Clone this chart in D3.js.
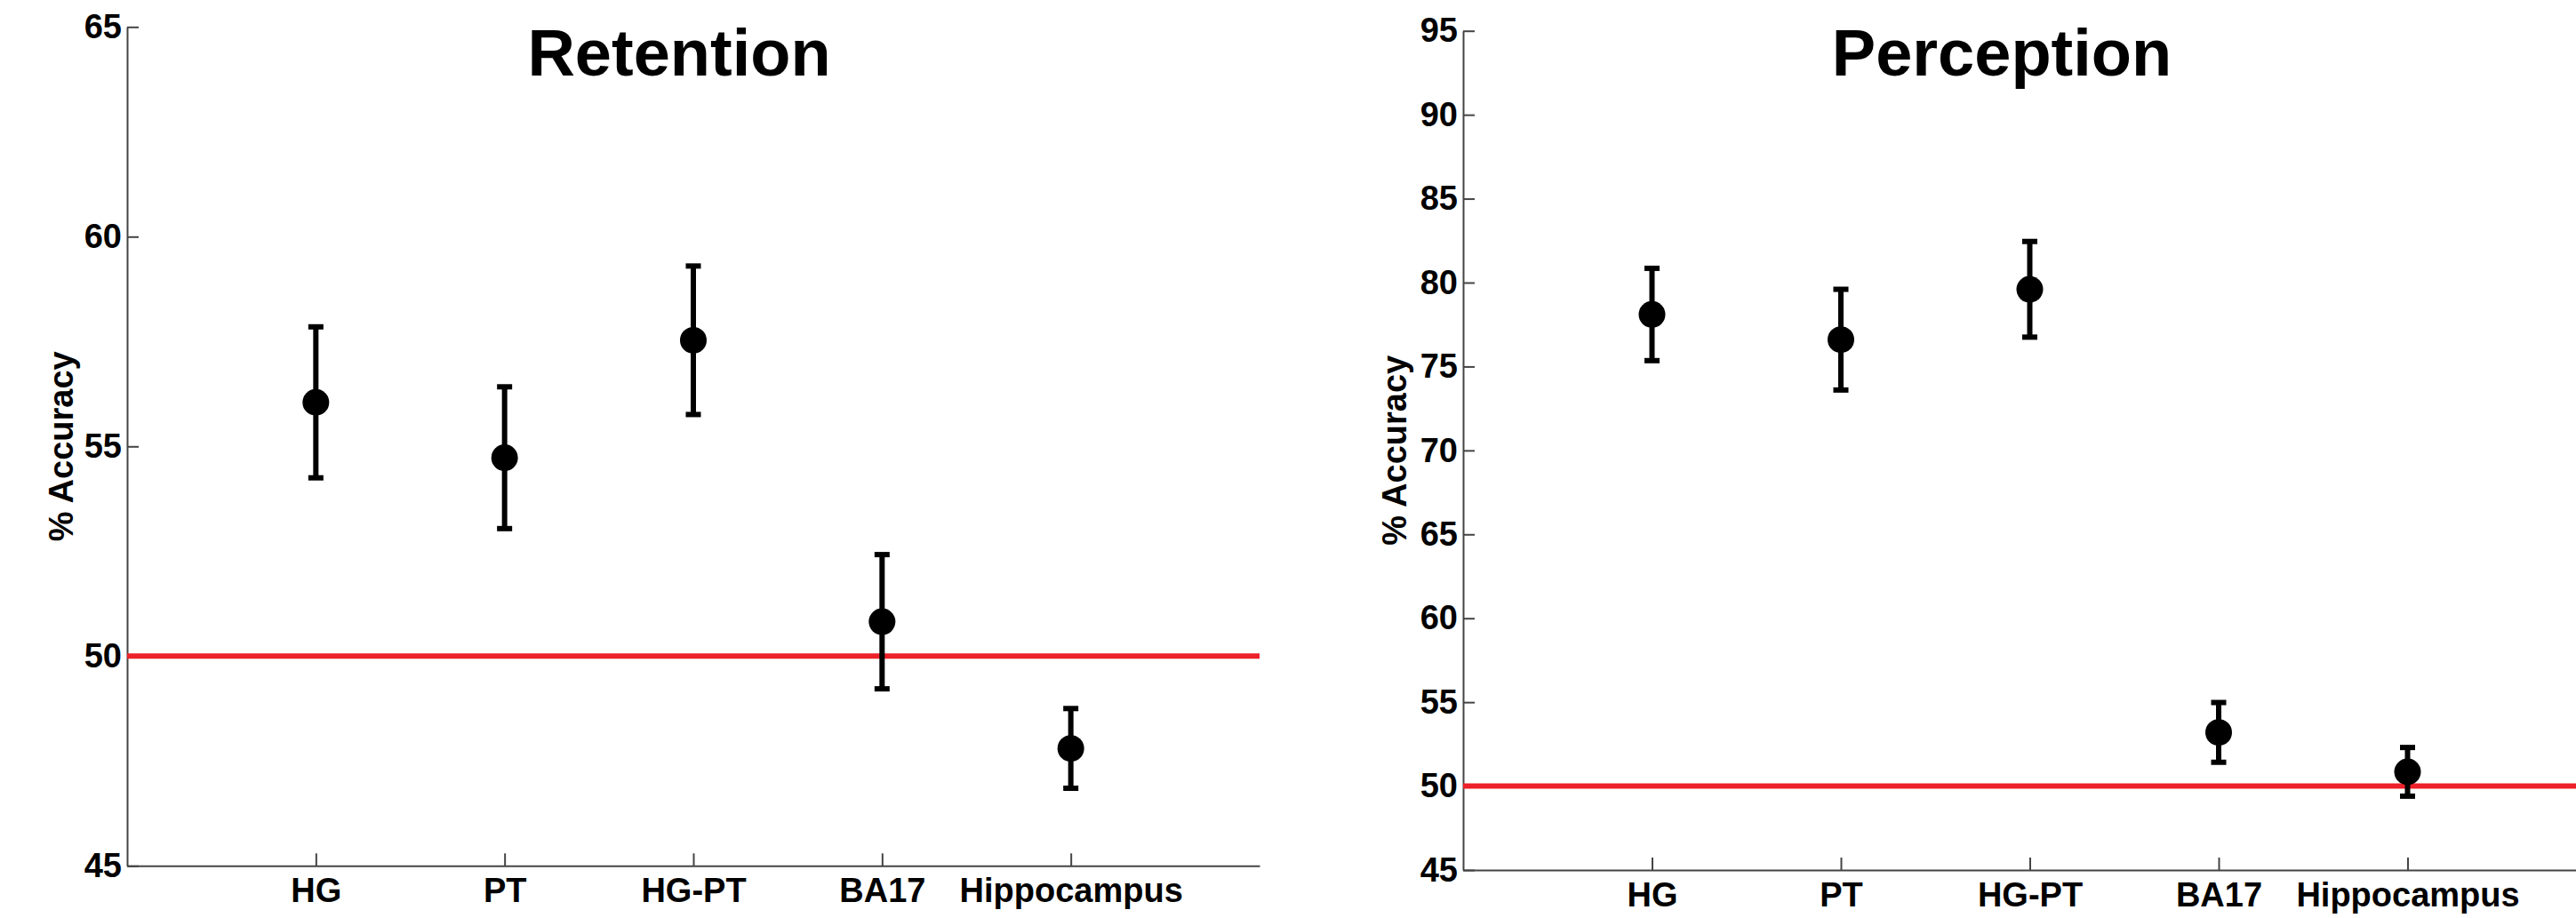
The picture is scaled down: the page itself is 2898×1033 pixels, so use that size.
<!DOCTYPE html>
<html>
<head>
<meta charset="utf-8">
<script src="https://cdn.jsdelivr.net/npm/d3@7"></script>
<style>
  body { margin: 0; background: #fff; }
  text { font-family: "Liberation Sans", Arial, sans-serif; font-weight: bold; }
</style>
</head>
<body>
<svg></svg>
<script>
const width = 2898;
const height = 1033;

const regions = ['HG', 'PT', 'HG-PT', 'BA17', 'Hippocampus'];

const retentionMean = [56.05, 54.73, 57.53, 50.82, 47.8];
const retentionErr = [1.8, 1.69, 1.77, 1.6, 0.95];
const retentionTicks = [45, 50, 55, 60, 65];

const perceptionMean = [78.1, 76.6, 79.6, 53.2, 50.85];
const perceptionErr = [2.75, 3.0, 2.85, 1.78, 1.45];
const perceptionTicks = [45, 50, 55, 60, 65, 70, 75, 80, 85, 90, 95];

const chance = 50;

const panels = [
    {title: 'Retention', mean: retentionMean, err: retentionErr, ticks: retentionTicks,
     left: 143, right: 1417, top: 30.3, bottom: 974.3, titleX: 764, labelX: 82},
    {title: 'Perception', mean: perceptionMean, err: perceptionErr, ticks: perceptionTicks,
     left: 1646, right: 2921, top: 34.7, bottom: 979, titleX: 2252, labelX: 1582}
];

const svg = d3.select('svg')
    .attr('width', width)
    .attr('height', height);

panels.forEach(p => {
    const xScale = d3.scaleLinear()
        .domain([0, regions.length + 1])
        .range([p.left, p.right]);

    const yScale = d3.scaleLinear()
        .domain(d3.extent(p.ticks))
        .range([p.bottom, p.top]);

    const xAxis = d3.axisBottom(xScale)
        .tickValues(regions.map((d, i) => i + 1))
        .tickFormat(i => regions[i - 1])
        .tickSizeInner(-14)
        .tickSizeOuter(0)
        .tickPadding(14);

    const yAxis = d3.axisLeft(yScale)
        .tickValues(p.ticks)
        .tickSizeInner(-13)
        .tickSizeOuter(0)
        .tickPadding(6);

    const gx = svg.append('g')
        .attr('transform', 'translate(0,' + p.bottom + ')')
        .call(xAxis);

    const gy = svg.append('g')
        .attr('transform', 'translate(' + p.left + ',0)')
        .call(yAxis);

    [gx, gy].forEach(g => {
        g.selectAll('path, line').attr('stroke', '#444').attr('stroke-width', 2);
        g.selectAll('text')
            .attr('fill', '#000')
            .style('font-size', '38px')
            .style('font-family', '"Liberation Sans", Arial, sans-serif')
            .style('font-weight', 'bold');
    });

    // chance level
    svg.append('line')
        .attr('x1', p.left)
        .attr('x2', p.right)
        .attr('y1', yScale(chance))
        .attr('y2', yScale(chance))
        .attr('stroke', '#ed2129')
        .attr('stroke-width', 6);

    const points = p.mean.map((m, i) => ({x: i + 1, m: m, e: p.err[i]}));

    const g = svg.append('g');

    g.selectAll('.stem')
        .data(points)
        .enter()
        .append('line')
        .attr('x1', d => xScale(d.x))
        .attr('x2', d => xScale(d.x))
        .attr('y1', d => yScale(d.m - d.e))
        .attr('y2', d => yScale(d.m + d.e))
        .attr('stroke', '#000')
        .attr('stroke-width', 6);

    g.selectAll('.cap')
        .data(points.flatMap(d => [{x: d.x, v: d.m - d.e}, {x: d.x, v: d.m + d.e}]))
        .enter()
        .append('line')
        .attr('x1', d => xScale(d.x) - 8.5)
        .attr('x2', d => xScale(d.x) + 8.5)
        .attr('y1', d => yScale(d.v))
        .attr('y2', d => yScale(d.v))
        .attr('stroke', '#000')
        .attr('stroke-width', 6);

    g.selectAll('circle')
        .data(points)
        .enter()
        .append('circle')
        .attr('cx', d => xScale(d.x))
        .attr('cy', d => yScale(d.m))
        .attr('r', 15)
        .attr('fill', '#000');

    svg.append('text')
        .attr('x', p.titleX)
        .attr('y', 85)
        .style('font-size', '74px')
        .style('text-anchor', 'middle')
        .text(p.title);

    svg.append('text')
        .attr('transform', 'translate(' + p.labelX + ',' + (p.top + p.bottom) / 2 + ') rotate(-90)')
        .style('font-size', '38px')
        .style('text-anchor', 'middle')
        .text('% Accuracy');
});
</script>
</body>
</html>
